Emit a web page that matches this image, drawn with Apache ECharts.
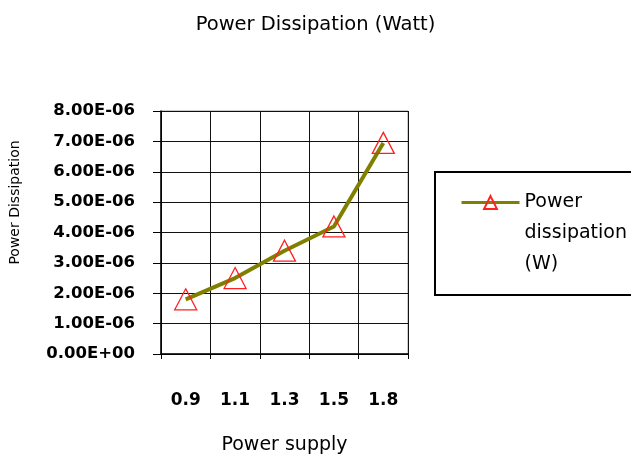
<!DOCTYPE html>
<html>
<head>
<meta charset="utf-8">
<script src="https://cdn.jsdelivr.net/npm/echarts@6/dist/echarts.min.js"></script>
<style>
  html, body { margin: 0; padding: 0; background: #fff; }
  #chart { width: 631px; height: 456px; }
</style>
</head>
<body>
<div id="chart"></div>
<script>
// Supply voltages (V) and measured power dissipation (W)
const supplyVoltages = ['0.9', '1.1', '1.3', '1.5', '1.8'];
const powerDissipation = [1.8e-6, 2.5e-6, 3.4e-6, 4.2e-6, 6.95e-6];
const seriesName = 'Power\ndissipation\n(W)';

const FONT = '"DejaVu Sans", sans-serif';

// Excel-style scientific label, e.g. 8.00E-06
function sci(v) {
  if (Math.abs(v) < 1e-15) return '0.00E+00';
  const s = v.toExponential(2).toUpperCase();
  const m = s.match(/^(-?[\d.]+)E([+-])(\d+)$/);
  return m[1] + 'E' + m[2] + m[3].padStart(2, '0');
}

const chart = echarts.init(document.getElementById('chart'), null, { renderer: 'canvas' });

chart.setOption({
  backgroundColor: '#fff',
  animation: false,
  title: {
    text: 'Power Dissipation (Watt)',
    left: 'center',
    top: 10,
    textStyle: { fontFamily: FONT, fontSize: 19.5, fontWeight: 'normal', color: '#000' }
  },
  grid: {
    left: 161, top: 111, right: 223, bottom: 102,
    outerBoundsMode: 'none',
    containLabel: false,
    show: true, borderColor: '#999', borderWidth: 1
  },
  xAxis: {
    type: 'category',
    data: supplyVoltages,
    boundaryGap: true,
    name: 'Power supply',
    nameLocation: 'middle',
    nameGap: 82,
    nameTextStyle: { fontFamily: FONT, fontSize: 19, color: '#000' },
    axisLine: { lineStyle: { color: '#000', width: 1.5 } },
    axisTick: { show: true, length: 5, lineStyle: { color: '#000' } },
    axisLabel: { margin: 38, fontFamily: FONT, fontSize: 17, fontWeight: 'bold', color: '#000' },
    splitLine: { show: true, lineStyle: { color: '#111', width: 1 } }
  },
  yAxis: {
    type: 'value',
    min: 0,
    max: 8e-6,
    interval: 1e-6,
    name: 'Power Dissipation',
    nameLocation: 'middle',
    nameRotate: 90,
    nameGap: 139,
    // extra left padding lifts the rotated title above the plot's midline
    nameTextStyle: { fontFamily: FONT, fontSize: 14, color: '#000', padding: [0, 0, 0, 60] },
    axisLine: { show: true, lineStyle: { color: '#000', width: 1.5 } },
    axisTick: { show: true, length: 8, lineStyle: { color: '#000' } },
    axisLabel: {
      margin: 26, formatter: sci,
      fontFamily: FONT, fontSize: 16.5, fontWeight: 'bold', color: '#000'
    },
    splitLine: { show: true, lineStyle: { color: '#111', width: 1 } }
  },
  legend: {
    data: [seriesName],
    left: 460,
    top: 125,
    orient: 'vertical',
    itemWidth: 58,
    itemHeight: 16,
    itemGap: 0,
    padding: 0,
    lineStyle: { width: 3 },
    // two leading blank lines keep the first text line level with the icon
    formatter: function (name) { return '\n\n' + name; },
    textStyle: { fontFamily: FONT, fontSize: 19, color: '#000', lineHeight: 31 }
  },
  graphic: [{
    type: 'rect',
    silent: true,
    shape: { x: 435, y: 172, width: 220, height: 123 },
    style: { fill: 'none', stroke: '#000', lineWidth: 2 }
  }],
  series: [{
    name: seriesName,
    type: 'line',
    data: powerDissipation,
    symbol: 'triangle',
    symbolSize: [22, 21],
    lineStyle: { color: '#808000', width: 4 },
    itemStyle: { color: 'rgba(255,255,255,0)', borderColor: '#ff2020', borderWidth: 1.3 },
    z: 3
  }]
});
</script>
</body>
</html>
